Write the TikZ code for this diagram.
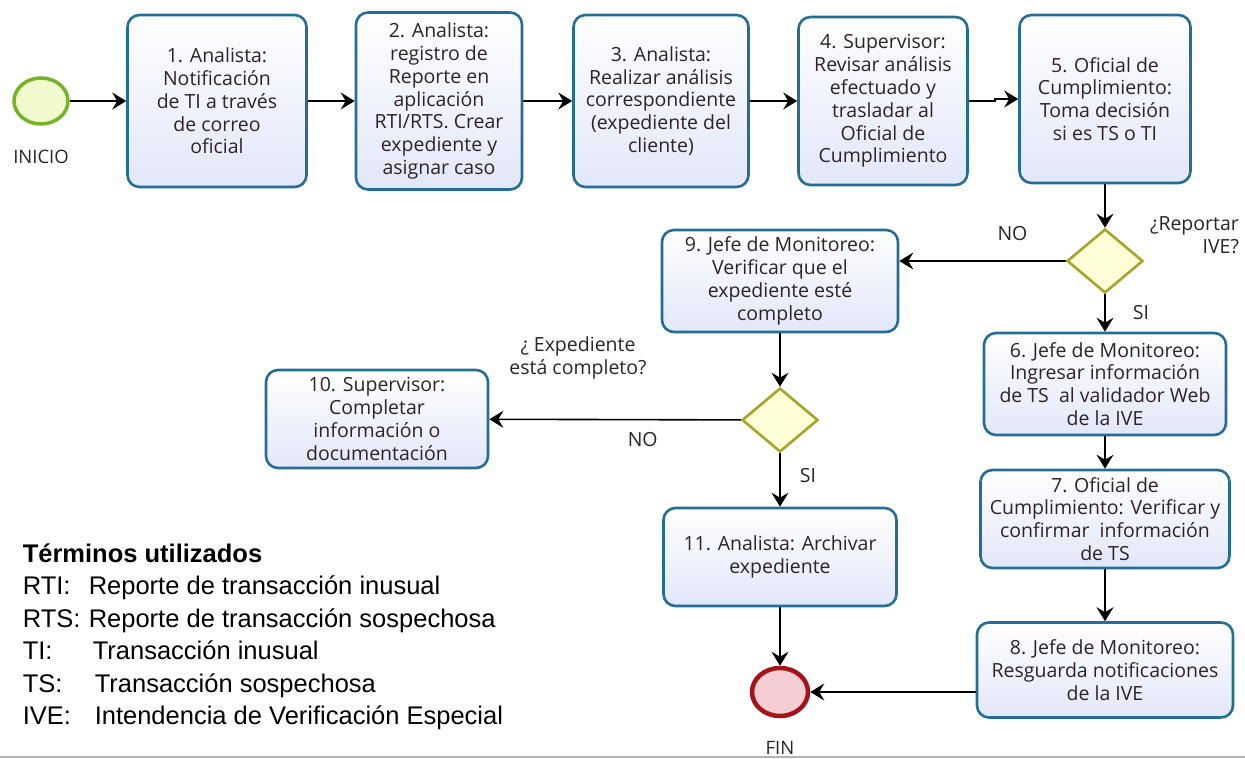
\documentclass[tikz,border=0pt]{standalone}
\usepackage{fontspec}
\setmainfont{Open Sans}
\newfontfamily\termfont{Liberation Sans}
\usetikzlibrary{shapes.geometric,arrows.meta,positioning}
\definecolor{taskblue}{RGB}{35,110,150}
\definecolor{taskfill}{RGB}{226,231,250}
\definecolor{gateolive}{RGB}{165,165,40}
\definecolor{gatefill}{RGB}{255,255,215}
\definecolor{startgreen}{RGB}{115,180,40}
\definecolor{startfill}{RGB}{240,250,205}
\definecolor{endred}{RGB}{165,20,25}
\definecolor{endfill}{RGB}{245,205,210}
\definecolor{inkdark}{RGB}{45,35,40}

\begin{document}
\begin{tikzpicture}[x=1pt,y=-1pt,->,>={Stealth[length=14pt,width=17pt,inset=5pt]},
                    line width=1.6pt,node distance=222pt,
                    task/.style={rectangle,rounded corners=12pt,draw=taskblue,line width=2.6pt,
                                 top color=white,bottom color=taskfill,text=inkdark,align=center,
                                 font=\fontsize{19.5}{22.8}\selectfont},
                    gate/.style={diamond,draw=gateolive,line width=2.6pt,fill=gatefill,
                                 minimum width=76pt,minimum height=64pt,inner sep=0pt},
                    startev/.style={ellipse,draw=startgreen,line width=3.5pt,fill=startfill,
                                 minimum width=54pt,minimum height=46pt,inner sep=0pt},
                    endev/.style={ellipse,draw=endred,line width=4.5pt,fill=endfill,
                                 minimum width=56pt,minimum height=48pt,inner sep=0pt},
                    lbl/.style={text=inkdark,align=center,font=\fontsize{19.5}{22.8}\selectfont},
                    evlbl/.style={text=inkdark,font=\fontsize{18.5}{22}\selectfont},
                    term/.style={anchor=base west,inner sep=0pt,
                                 font=\termfont\fontsize{25.5}{30}\selectfont}]
  \useasboundingbox (0,0) rectangle (1245,759);

  % top row
  \node[task,minimum width=179pt,minimum height=172pt] (t1) at (217,101)
       {1. Analista:\\Notificación\\de TI a través\\de correo\\oficial};
  \node[startev] (start) [left of=t1,node distance=176pt] {};
  \node[evlbl] (inicio) [below of=start,node distance=56pt] {INICIO};
  \node[task,minimum width=166pt,minimum height=177pt] (t2) [right of=t1]
       {2. Analista:\\registro de\\Reporte en\\aplicación\\RTI/RTS. Crear\\expediente y\\asignar caso};
  \node[task,minimum width=175pt,minimum height=172pt] (t3) [right of=t2]
       {3. Analista:\\Realizar análisis\\correspondiente\\(expediente del\\cliente)};
  \node[task,minimum width=169pt,minimum height=168pt] (t4) [right of=t3]
       {4. Supervisor:\\Revisar análisis\\efectuado y\\trasladar al\\Oficial de\\Cumplimiento};
  \node[task,minimum width=171pt,minimum height=168pt,yshift=2pt] (t5) [right of=t4]
       {5. Oficial de\\Cumplimiento:\\Toma decisión\\si es TS o TI};

  % right column
  \node[gate] (g1) [below of=t5,node distance=162pt] {};
  \node[lbl,align=right,anchor=east] (q1) at (1243,235) {¿Reportar\\IVE?};
  \node[task,minimum width=242pt,minimum height=102pt] (t6) [below of=g1,node distance=123pt]
       {6. Jefe de Monitoreo:\\Ingresar información\\de TS\ \ al validador Web\\de la IVE};
  \node[task,minimum width=249pt,minimum height=98pt] (t7) [below of=t6,node distance=135pt]
       {7. Oficial de\\Cumplimiento: Verificar y\\confirmar\ \ información\\de TS};
  \node[task,minimum width=256pt,minimum height=95pt] (t8) [below of=t7,node distance=151pt]
       {8. Jefe de Monitoreo:\\Resguarda notificaciones\\de la IVE};

  % middle column
  \node[task,minimum width=236pt,minimum height=102pt] (t9) at (780,281)
       {9. Jefe de Monitoreo:\\Verificar que el\\expediente esté\\completo};
  \node[gate] (g2) [below of=t9,node distance=139pt] {};
  \node[lbl] (q2) at (578,358) {¿ Expediente\\está completo?};
  \node[task,minimum width=222pt,minimum height=98pt] (t10) at (377,419)
       {10. Supervisor:\\Completar\\información o\\documentación};
  \node[task,minimum width=233pt,minimum height=98pt] (t11) [below of=g2,node distance=137pt]
       {11. Analista: Archivar\\expediente};
  \node[endev] (fin) [below of=t11,node distance=135pt] {};
  \node[evlbl] (finlbl) [below of=fin,node distance=56pt] {FIN};

  \path[every node/.style={lbl}]
    (start) edge (t1)
    (t1) edge (t2)
    (t2) edge (t3)
    (t3) edge (t4)
    (t5) edge (g1)
    (g1.west) edge node[pos=0.32,yshift=27pt] {NO} (g1 -| t9.east)
    (g1) edge node[xshift=36pt] {SI} (t6)
    (t6) edge (t7)
    (t7) edge (t8)
    (t8.west |- fin) edge (fin)
    (t9) edge (g2)
    (g2) edge node[pos=0.39,yshift=-20pt] {NO} (t10)
         edge node[xshift=28pt,yshift=4pt] {SI} (t11)
    (t11) edge (fin)
    ;
  \draw (t4.east) -- ++(26pt,0) |- (t5.west);

  % legend
  \node[term,font=\termfont\bfseries\fontsize{25.5}{30}\selectfont] (term0) at (22,562) {Términos utilizados};
  \node[term] (term1) at (22,594.5) {\makebox[66pt][l]{RTI:}Reporte de transacción inusual};
  \node[term] (term2) at (22,627) {\makebox[66pt][l]{RTS:}Reporte de transacción sospechosa};
  \node[term] (term3) at (22,659.5) {\makebox[70pt][l]{TI:}Transacción inusual};
  \node[term] (term4) at (22,692) {\makebox[72pt][l]{TS:}Transacción sospechosa};
  \node[term] (term5) at (22,724.5) {\makebox[72pt][l]{IVE:}Intendencia de Verificación Especial};

  \draw[-,line width=2pt,black!30] (0,757) -- (1245,757);
\end{tikzpicture}
\end{document}
